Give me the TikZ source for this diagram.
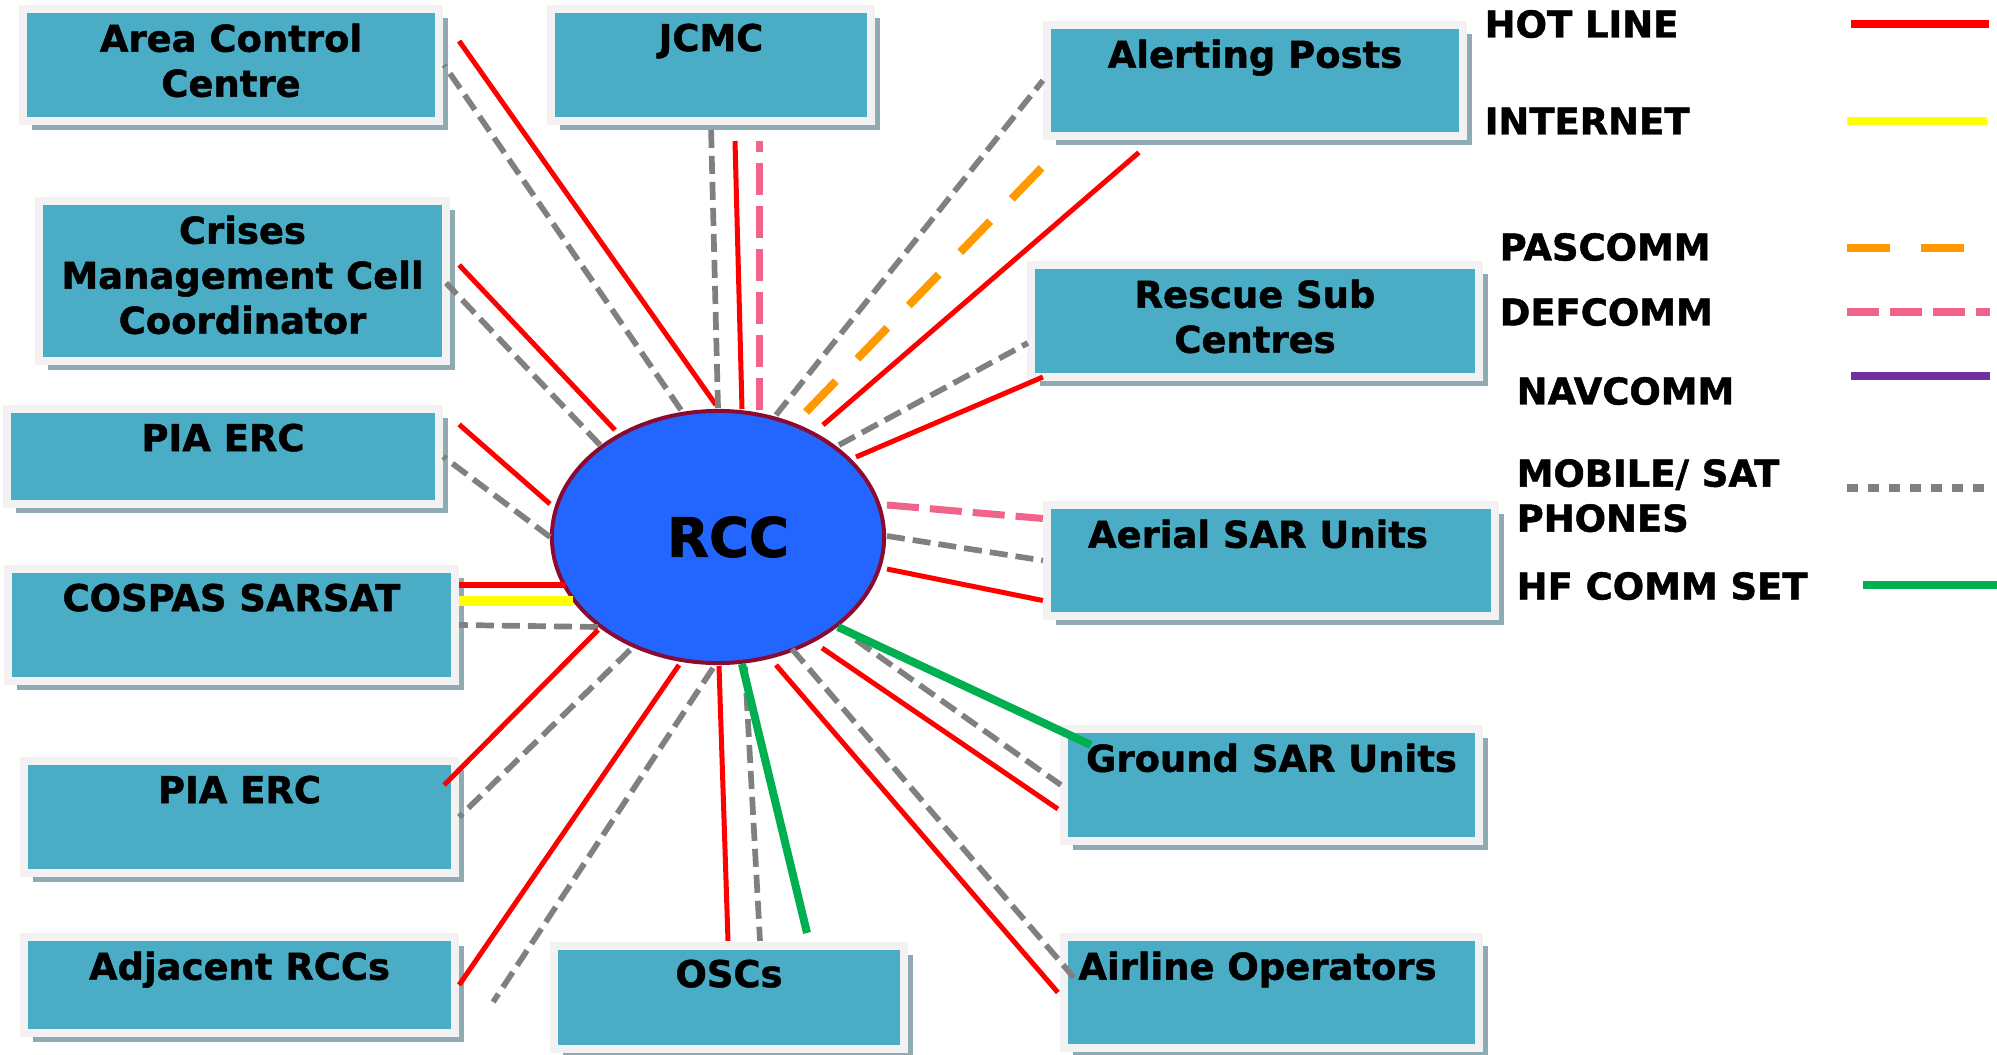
\documentclass[tikz,border=0pt]{standalone}
\usepackage{fontspec}
\setmainfont{DejaVu Sans}[BoldFeatures={FakeBold=1.3}]
\usepackage{tikz}
\usetikzlibrary{positioning}
\usetikzlibrary{calc,shapes.geometric,shadows}

\definecolor{boxteal}{RGB}{75,172,198}
\definecolor{boxrim}{RGB}{242,242,242}
\definecolor{boxshade}{RGB}{143,170,177}
\definecolor{rccblue}{RGB}{34,102,255}
\definecolor{rccrim}{RGB}{139,10,50}
\definecolor{hotred}{RGB}{255,0,0}
\definecolor{netyellow}{RGB}{255,255,0}
\definecolor{pasorange}{RGB}{255,153,0}
\definecolor{defpink}{RGB}{240,100,140}
\definecolor{navpurple}{RGB}{112,48,160}
\definecolor{mobgrey}{RGB}{128,128,128}
\definecolor{hfgreen}{RGB}{0,176,80}

\tikzset{
	unitbox/.style={rectangle, fill=boxteal, draw=boxrim, line width=0.08cm, inner sep=0pt,
		drop shadow={shadow xshift=0.09cm, shadow yshift=-0.09cm, fill=boxshade, opacity=1}},
	unittext/.style={inner sep=0pt, align=center, font=\bfseries\fontsize{10.5}{12.8}\selectfont},
	hub/.style={ellipse, draw=rccrim, line width=0.04cm, fill=rccblue, inner sep=0pt,
		minimum width=3.32cm, minimum height=2.52cm, font=\bfseries\fontsize{15.5}{18}\selectfont},
	keytext/.style={anchor=base west, inner sep=0pt, align=left, font=\bfseries\fontsize{10.5}{12.8}\selectfont},
	keyline/.style={line width=0.08cm},
	hotline/.style={draw=hotred, line width=0.05cm},
	internet/.style={draw=netyellow, line width=0.1cm},
	pascomm/.style={draw=pasorange, line width=0.08cm, dash pattern=on 0.43cm off 0.31cm},
	defcomm/.style={draw=defpink, line width=0.07cm, dash pattern=on 0.32cm off 0.11cm},
	navcomm/.style={draw=navpurple, line width=0.08cm},
	mobile/.style={draw=mobgrey, line width=0.057cm, dash pattern=on 0.18cm off 0.08cm},
	hfset/.style={draw=hfgreen, line width=0.08cm}
}

\begin{document}
\begin{tikzpicture}[x=0.01cm, y=-0.01cm]
	
	\fill[white] (0,0) rectangle (1997,1055);
	\useasboundingbox (0,0) rectangle (1997,1055);
	
	% the RCC in the middle
	\node[hub] (rcc) at (718,537) {\kern0.2cm RCC};
	
	% units round the RCC (centre of box, then its text below the top edge)
	\node[unitbox, minimum width=4.16cm, minimum height=1.12cm] (acc) at (231,65) {};
	\node[unittext, below=0.18cm of acc.north] (acc-txt) {Area Control\\Centre};
	
	\node[unitbox, minimum width=4.07cm, minimum height=1.60cm] (crises) at (242.5,281) {};
	\node[unittext, below=0.18cm of crises.north] (crises-txt) {Crises\\Management Cell\\Coordinator};
	
	\node[unitbox, minimum width=4.32cm, minimum height=0.95cm] (piaA) at (223,456.5) {};
	\node[unittext, below=0.18cm of piaA.north] (piaA-txt) {PIA ERC};
	
	\node[unitbox, minimum width=4.47cm, minimum height=1.12cm] (cospas) at (231.5,625) {};
	\node[unittext, below=0.18cm of cospas.north] (cospas-txt) {COSPAS SARSAT};
	
	\node[unitbox, minimum width=4.31cm, minimum height=1.12cm] (piaB) at (239.5,817) {};
	\node[unittext, below=0.18cm of piaB.north] (piaB-txt) {PIA ERC};
	
	\node[unitbox, minimum width=4.31cm, minimum height=0.96cm] (adjrcc) at (239.5,985) {};
	\node[unittext, below=0.18cm of adjrcc.north] (adjrcc-txt) {Adjacent RCCs};
	
	\node[unitbox, minimum width=3.20cm, minimum height=1.12cm] (jcmc) at (711,65) {};
	\node[unittext, below=0.18cm of jcmc.north] (jcmc-txt) {JCMC};
	
	\node[unitbox, minimum width=3.50cm, minimum height=1.03cm] (osc) at (729,997.5) {};
	\node[unittext, below=0.17cm of osc.north] (osc-txt) {OSCs};
	
	\node[unitbox, minimum width=4.16cm, minimum height=1.11cm] (alert) at (1255,80.5) {};
	\node[unittext, below=0.18cm of alert.north] (alert-txt) {Alerting Posts};
	
	\node[unitbox, minimum width=4.48cm, minimum height=1.12cm] (rsc) at (1255,321) {};
	\node[unittext, below=0.18cm of rsc.north] (rsc-txt) {Rescue Sub\\Centres};
	
	\node[unitbox, minimum width=4.48cm, minimum height=1.11cm] (aerial) at (1271,560.5) {};
	\node[unittext, below=0.18cm of aerial.north, xshift=-0.13cm] (aerial-txt) {Aerial SAR Units};
	
	\node[unitbox, minimum width=4.15cm, minimum height=1.12cm] (ground) at (1271.5,785) {};
	\node[unittext, below=0.18cm of ground.north] (ground-txt) {Ground SAR Units};
	
	\node[unitbox, minimum width=4.15cm, minimum height=1.11cm] (airline) at (1271.5,992.5) {};
	\node[unittext, below=0.18cm of airline.north, xshift=-0.14cm] (airline-txt) {Airline Operators};
	
	%%%%%%%%%%%%%%%%%%%%%%%%%%%%%%%%%%%%%%%%%%%%%%%%%%%%%%%%%%%%%%
	% links: from the rim of the RCC out to each unit
	
	% Area Control Centre
	\draw[hotline] ($(rcc)+(-2,-132)$) -- ($(acc.east)+(16,-24)$);
	\draw[mobile] ($(rcc)+(-37,-127)$) -- ($(acc.east)+(1,0)$);
	% Crises Management Cell
	\draw[hotline] ($(rcc)+(-103,-107)$) -- ($(crises.east)+(9,-16)$);
	\draw[mobile] ($(rcc)+(-118,-92)$) -- ($(crises.east)+(-4,2)$);
	% PIA ERC (upper)
	\draw[hotline] ($(rcc)+(-168,-33)$) -- ($(piaA.east)+(16,-32)$);
	\draw[mobile] ($(rcc)+(-168,0)$) -- (piaA.east);
	% COSPAS SARSAT
	\draw[hotline] ($(rcc)+(-152,48)$) -- ($(cospas.east)+(0,-40)$);
	\draw[internet] ($(rcc)+(-145,64)$) -- ($(cospas.east)+(0,-24)$);
	\draw[mobile] ($(rcc)+(-120,90)$) -- (cospas.east);
	% PIA ERC (lower)
	\draw[hotline] ($(rcc)+(-120,93)$) -- ($(piaB.east)+(-15,-32)$);
	\draw[mobile] ($(rcc)+(-88,113)$) -- (piaB.east);
	% Adjacent RCCs
	\draw[hotline] ($(rcc)+(-39,128)$) -- (adjrcc.east);
	\draw[mobile] ($(rcc)+(-5,131)$) -- ($(adjrcc.east)+(34,17)$);
	% OSCs
	\draw[hotline] ($(rcc)+(1,129)$) -- ($(osc.north)+(-1,-1)$);
	\draw[mobile] ($(rcc)+(27,130)$) -- ($(osc.north)+(31,-1)$);
	\draw[hfset] ($(rcc)+(24,127)$) -- ($(osc.north)+(78,-9)$);
	% Airline Operators
	\draw[hotline] ($(rcc)+(58,128)$) -- ($(airline.west)+(-2,0)$);
	\draw[mobile] ($(rcc)+(74,112)$) -- ($(airline.west)+(14,-15)$);
	% Ground SAR Units
	\draw[hotline] ($(rcc)+(104,111)$) -- ($(ground.west)+(-2,24)$);
	\draw[mobile] ($(rcc)+(138,103)$) -- ($(ground.west)+(1,0)$);
	\draw[hfset] ($(rcc)+(120,90)$) -- ($(ground.west)+(31,-40)$);
	% Aerial SAR Units
	\draw[defcomm] ($(rcc)+(169,-32)$) -- ($(aerial.west)+(0,-42)$);
	\draw[mobile] ($(rcc)+(169,-1)$) -- (aerial.west);
	\draw[hotline] ($(rcc)+(169,32)$) -- ($(aerial.west)+(0,40)$);
	% Rescue Sub Centres
	\draw[mobile] ($(rcc)+(121,-92)$) -- ($(rsc.west)+(1,22)$);
	\draw[hotline] ($(rcc)+(138,-80)$) -- ($(rsc.west)+(16,56)$);
	% Alerting Posts
	\draw[mobile] ($(rcc)+(58,-122)$) -- (alert.west);
	\draw[pascomm] ($(rcc)+(88,-125)$) -- ($(alert.west)+(1,85)$);
	\draw[hotline] ($(rcc)+(105,-112)$) -- ($(alert.west)+(96,72)$);
	% JCMC
	\draw[mobile] ($(rcc)+(0,-129)$) -- ($(jcmc.south)+(0,1)$);
	\draw[hotline] ($(rcc)+(24,-128)$) -- ($(jcmc.south)+(24,16)$);
	\draw[defcomm] ($(rcc)+(41,-127)$) -- ($(jcmc.south)+(48,16)$);
	
	%%%%%%%%%%%%%%%%%%%%%%%%%%%%%%%%%%%%%%%%%%%%%%%%%%%%%%%%%%%%%%
	% key
	\node[keytext] (key-hot) at (1484,37.5) {HOT LINE};
	\node[keytext] (key-net) at (1484,134.5) {INTERNET};
	\node[keytext] (key-pas) at (1499,260.5) {PASCOMM};
	\node[keytext] (key-def) at (1499,325.5) {DEFCOMM};
	\node[keytext] (key-nav) at (1516,404.5) {NAVCOMM};
	\node[keytext, anchor=north west] (key-mob) at (1516,458.5) {MOBILE/ SAT\\PHONES};
	\node[keytext] (key-hf) at (1516,599.5) {HF COMM SET};
	
	\draw[hotline, keyline] (1851,24) -- (1989,24);
	\draw[internet, keyline] (1847,121) -- (1987,121);
	\draw[pascomm, keyline] (1847,248) -- (1966,248);
	\draw[defcomm, keyline] (1847,312) -- (1990,312);
	\draw[navcomm, keyline] (1851,376) -- (1990,376);
	\draw[mobile, keyline, dash pattern=on 0.11cm off 0.1cm] (1847,488) -- (1985,488);
	\draw[hfset, keyline] (1863,585) -- (1997,585);
	
\end{tikzpicture}
\end{document}
